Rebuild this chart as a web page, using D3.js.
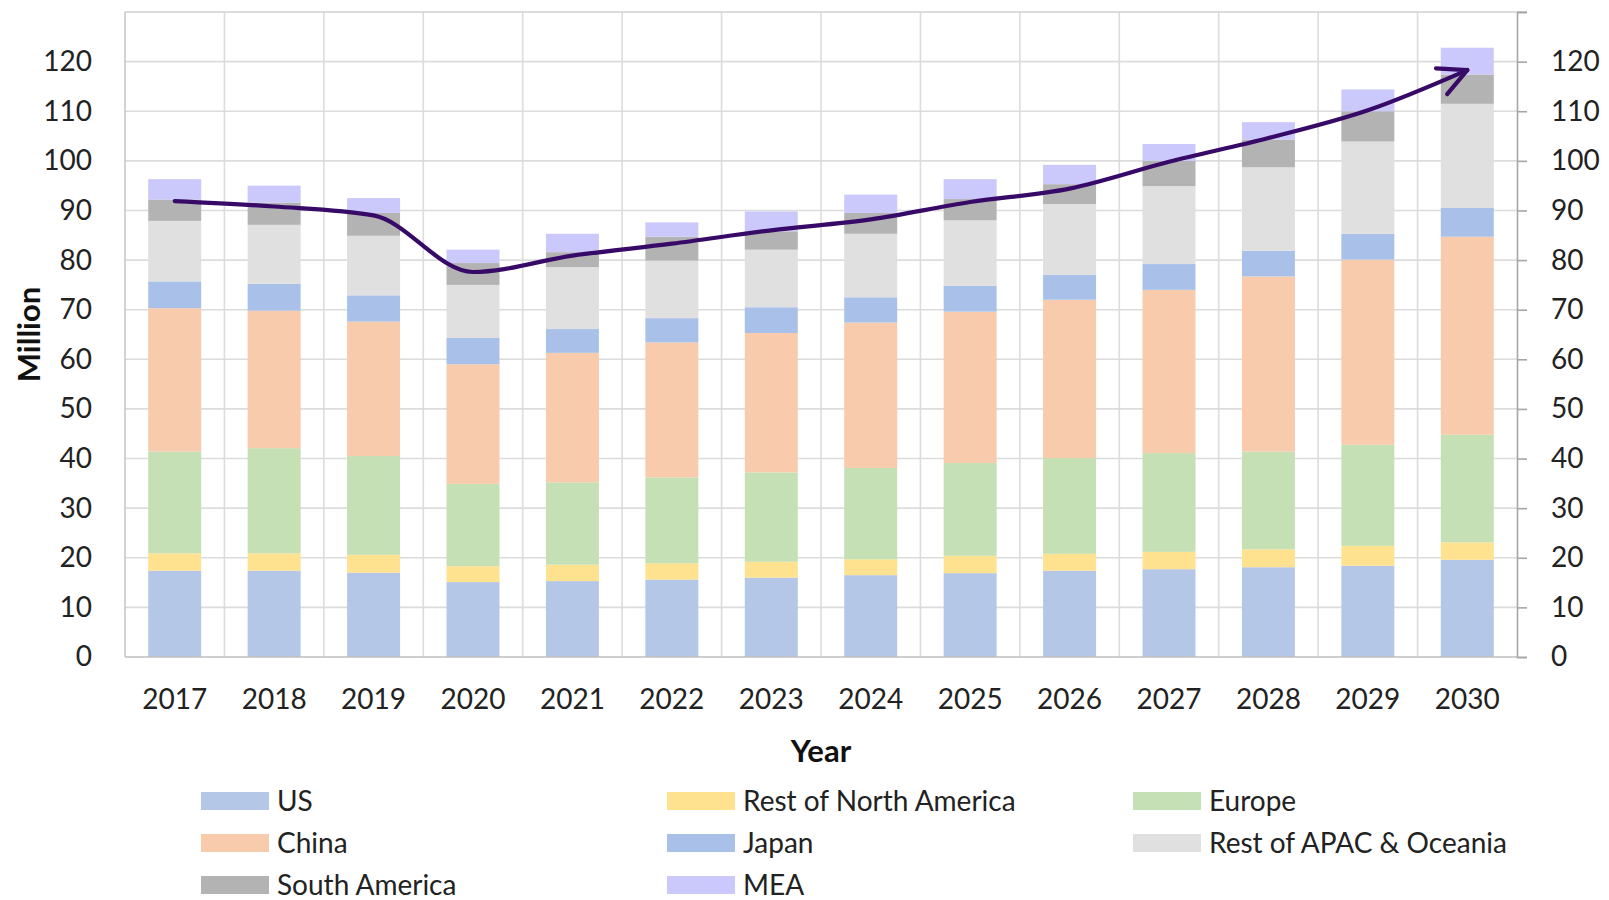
<!DOCTYPE html>
<html>
<head>
<meta charset="utf-8">
<script src="https://cdn.jsdelivr.net/npm/d3@7"></script>
<style>
  html, body { margin: 0; padding: 0; background: #ffffff; }
  svg { display: block; font-family: Lato, "Noto Sans", sans-serif; }
</style>
</head>
<body>
<svg id="chart" width="1609" height="900"></svg>
<script>
const years = ["2017","2018","2019","2020","2021","2022","2023","2024","2025","2026","2027","2028","2029","2030"];
const seriesNames = ["US","Rest of North America","Europe","China","Japan","Rest of APAC & Oceania","South America","MEA"];
const US       = [17.4,17.4,17.0,15.1,15.3,15.6,16.0,16.5,16.9,17.4,17.7,18.1,18.4,19.6];
const restNA   = [3.5,3.5,3.6,3.2,3.3,3.3,3.2,3.2,3.5,3.4,3.5,3.6,4.0,3.5];
const europe   = [20.5,21.2,19.9,16.6,16.6,17.3,18.0,18.4,18.7,19.3,19.9,19.7,20.4,21.7];
const china    = [28.9,27.7,27.1,24.1,26.1,27.2,28.1,29.3,30.5,31.9,32.9,35.3,37.3,39.9];
const japan    = [5.4,5.4,5.3,5.3,4.8,4.9,5.2,5.1,5.2,5.0,5.2,5.2,5.2,5.8];
const restAPAC = [12.2,11.9,12.0,10.7,12.5,11.6,11.6,12.8,13.2,14.3,15.7,16.8,18.6,21.0];
const southAm  = [4.3,4.5,4.6,4.4,3.0,4.8,3.7,4.2,4.3,4.0,5.1,5.6,6.1,5.9];
const mea      = [4.1,3.4,3.0,2.7,3.7,2.9,4.0,3.7,4.0,3.9,3.4,3.5,4.4,5.4];
const trendValues = [91.9,90.8,89.0,77.6,80.9,83.3,86.0,88.2,91.7,94.4,99.8,104.6,110.2,118.3];
const yTicks = [0,10,20,30,40,50,60,70,80,90,100,110,120];
const colors = ["#b4c7e7","#ffe28f","#c5e0b4","#f8cbad","#a9c1e8","#e0e0e0","#b3b3b3","#cbc8fc"];

const seriesValues = [US, restNA, europe, china, japan, restAPAC, southAm, mea];
const rows = years.map((y, i) => {
  const r = { year: y };
  seriesNames.forEach((s, k) => { r[s] = seriesValues[k][i]; });
  return r;
});

const svg = d3.select("#chart");
const L = 125, R = 1517, T = 12, B = 657;

const x = d3.scaleBand().domain(years).range([L, R]).paddingInner(0.467).paddingOuter(0.2335);
const y = d3.scaleLinear().domain([0, 130]).range([B, T]);
const step = x.step();

// gridlines
const grid = svg.append("g");
grid.selectAll("line.h").data(yTicks.filter(d => d > 0)).join("line")
  .attr("x1", L).attr("x2", R).attr("y1", d => y(d)).attr("y2", d => y(d))
  .attr("stroke", "#dcdcdc").attr("stroke-width", 1.6);
grid.selectAll("line.v").data(years.slice(1)).join("line")
  .attr("x1", d => x(d) - (step - x.bandwidth()) / 2).attr("x2", d => x(d) - (step - x.bandwidth()) / 2)
  .attr("y1", T).attr("y2", B)
  .attr("stroke", "#dcdcdc").attr("stroke-width", 1.6);

// borders
svg.append("line").attr("x1", L).attr("x2", R + 10).attr("y1", T).attr("y2", T).attr("stroke", "#d0d0d0").attr("stroke-width", 1.6);
svg.append("line").attr("x1", L).attr("x2", L).attr("y1", T).attr("y2", B).attr("stroke", "#c8c8c8").attr("stroke-width", 1.6);

// stacked bars
const stack = d3.stack().keys(seriesNames);
const stacked = stack(rows);
svg.append("g").selectAll("g").data(stacked).join("g")
  .attr("fill", (d, i) => colors[i])
  .selectAll("rect").data(d => d).join("rect")
  .attr("x", d => x(d.data.year))
  .attr("width", x.bandwidth())
  .attr("y", d => y(d[1]))
  .attr("height", d => y(d[0]) - y(d[1]));

// bottom axis line
svg.append("line").attr("x1", L).attr("x2", R).attr("y1", B).attr("y2", B).attr("stroke", "#bfbfbf").attr("stroke-width", 1.6);

// left axis labels
const leftAxis = svg.append("g").attr("transform", `translate(${L},0)`)
  .call(d3.axisLeft(y).tickValues(yTicks).tickSize(0).tickPadding(33));
leftAxis.select(".domain").remove();
leftAxis.selectAll("text").attr("font-size", 28).attr("fill", "#222").attr("font-family", "Lato, 'Noto Sans', sans-serif");

// right axis
const rightAxis = svg.append("g").attr("transform", `translate(${R},0)`)
  .call(d3.axisRight(y).tickValues(yTicks.concat([130])).tickSize(10).tickPadding(24).tickFormat(d => d === 130 ? "" : d));
rightAxis.select(".domain").attr("stroke", "#a6a6a6").attr("stroke-width", 1.6);
rightAxis.selectAll(".tick line").attr("stroke", "#a6a6a6").attr("stroke-width", 1.6);
rightAxis.selectAll("text").attr("font-size", 28).attr("fill", "#222").attr("font-family", "Lato, 'Noto Sans', sans-serif");

// bottom axis labels
const bottomAxis = svg.append("g").attr("transform", `translate(0,${B})`)
  .call(d3.axisBottom(x).tickSize(0).tickPadding(32));
bottomAxis.select(".domain").remove();
bottomAxis.selectAll("text").attr("font-size", 28).attr("fill", "#222").attr("font-family", "Lato, 'Noto Sans', sans-serif");

// axis titles
svg.append("text").attr("x", (L + R) / 2).attr("y", 762).attr("text-anchor", "middle")
  .attr("font-size", 31).attr("font-weight", "bold").attr("fill", "#111").text("Year");
svg.append("text").attr("transform", `translate(40,${(T + B) / 2}) rotate(-90)`).attr("text-anchor", "middle")
  .attr("font-size", 31).attr("font-weight", "bold").attr("fill", "#111").text("Million");

// trend line with arrow
const lineColor = "#370a68";
const defs = svg.append("defs");
defs.append("marker").attr("id", "arrow")
  .attr("markerUnits", "userSpaceOnUse")
  .attr("viewBox", "-32 -18 36 36").attr("refX", 0).attr("refY", 0)
  .attr("markerWidth", 36).attr("markerHeight", 36).attr("orient", "auto")
  .append("path").attr("d", "M-28,-14 L0,0 L-28,14")
  .attr("fill", "none").attr("stroke", lineColor).attr("stroke-width", 4.2)
  .attr("stroke-linecap", "round").attr("stroke-linejoin", "round");

const line = d3.line()
  .x((d, i) => x(years[i]) + x.bandwidth() / 2)
  .y(d => y(d))
  .curve(d3.curveMonotoneX);
svg.append("path").datum(trendValues).attr("d", line)
  .attr("fill", "none").attr("stroke", lineColor).attr("stroke-width", 4.2)
  .attr("stroke-linecap", "round").attr("marker-end", "url(#arrow)");

// legend
const legendCols = [201, 667, 1133];
const legendRows = [801, 843, 885];
const lg = svg.append("g");
seriesNames.forEach((s, i) => {
  const cx = legendCols[i % 3], cy = legendRows[Math.floor(i / 3)];
  lg.append("rect").attr("x", cx).attr("y", cy - 9).attr("width", 68).attr("height", 18).attr("fill", colors[i]);
  lg.append("text").attr("x", cx + 76).attr("y", cy).attr("dy", "0.35em")
    .attr("font-size", 28).attr("fill", "#222").text(s);
});
</script>
</body>
</html>
